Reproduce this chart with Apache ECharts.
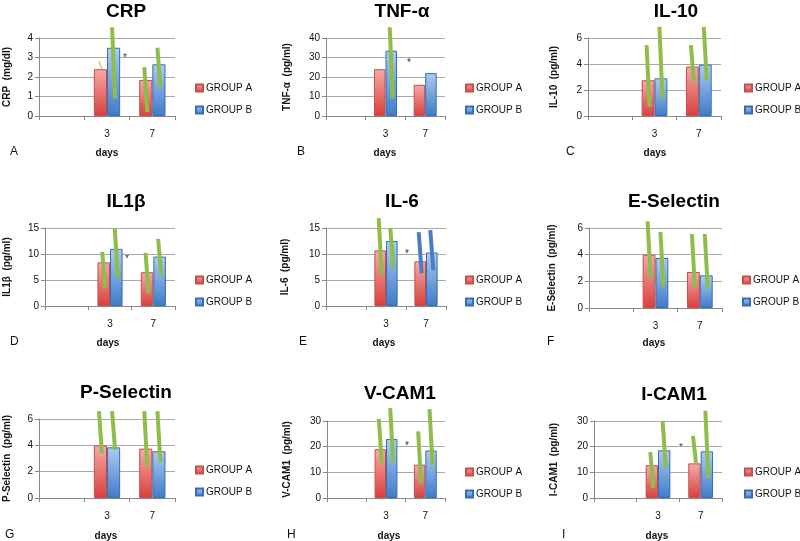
<!DOCTYPE html>
<html>
<head>
<meta charset="utf-8">
<script src="https://cdn.jsdelivr.net/npm/echarts@6/dist/echarts.min.js"></script>
<style>
html,body{margin:0;padding:0;background:#fff;}
#chart{width:800px;height:541px;}
</style>
</head>
<body>
<div id="chart"></div>
<script>
// ---------------- DATA ----------------
const categories = ['', '3', '7'];
const groupNames = ['GROUP A', 'GROUP B'];
const panelTitles = ['CRP', 'TNF-α', 'IL-10', 'IL1β', 'IL-6', 'E-Selectin', 'P-Selectin', 'V-CAM1', 'I-CAM1'];
const yAxisNames = ['CRP  (mg/dl)', 'TNF-α  (pg/ml)', 'IL-10  (pg/ml)', 'IL1β  (pg/ml)', 'IL-6  (pg/ml)',
                    'E-Selectin  (pg/ml)', 'P-Selectin  (pg/ml)', 'V-CAM1  (pg/ml)', 'I-CAM1  (pg/ml)'];
const panelLetters = ['A', 'B', 'C', 'D', 'E', 'F', 'G', 'H', 'I'];
const xAxisName = 'days';
const yMax = [4, 40, 6, 15, 15, 6, 6, 30, 30];
const yInterval = [1, 10, 2, 5, 5, 2, 2, 10, 10];

// bar heights per category ('', '3', '7')
const groupA = [[null, 2.4, 1.85], [null, 24, 16], [null, 2.75, 3.8], [null, 8.4, 6.5], [null, 10.7, 8.6],
                [null, 4.0, 2.7], [null, 4.0, 3.75], [null, 19, 13], [null, 12.8, 13.5]];
const groupB = [[null, 3.5, 2.65], [null, 33.5, 22], [null, 2.9, 3.95], [null, 11, 9.5], [null, 12.5, 10.3],
                [null, 3.75, 2.45], [null, 3.85, 3.55], [null, 23, 18.5], [null, 18.6, 18.2]];

// error ranges [low, high] for day 3 and day 7 (null = not drawn)
const errA = [[[2.4, 2.8], [0.2, 2.5]], [null, null], [[0.7, 5.45], [2.6, 5.45]], [[3.4, 10.4], [2.5, 10.2]],
              [[6.0, 16.9], [6.3, 14.2]], [[2.3, 6.5], [1.5, 5.55]], [[3.4, 6.6], [2.4, 6.6]],
              [[13.6, 30.8], [5.8, 26]], [[3.9, 17.9], [13.6, 24.2]]];
const errB = [[[0.9, 4.55], [1.45, 3.5]], [[9.2, 45.5], null], [[1.35, 6.85], [2.75, 6.85]], [[5.4, 15], [6.0, 12.9]],
              [[7.5, 15], [6.9, 14.6]], [[1.6, 5.7], [1.5, 5.55]], [[3.65, 6.6], [2.75, 6.6]],
              [[14, 35], [12.8, 34.6]], [[12, 30], [7.8, 34]]];

// panels showing a significance asterisk
const starPanels = [0, 1, 3, 4, 7, 8];

// ---------------- LAYOUT / STYLE ----------------
const grids = [
  {l: 39, t: 38, w: 136, h: 78}, {l: 326, t: 38, w: 119, h: 78}, {l: 588, t: 38, w: 133, h: 78},
  {l: 45, t: 228, w: 130, h: 78}, {l: 326, t: 228, w: 120, h: 78}, {l: 589, t: 228, w: 133, h: 80},
  {l: 39, t: 419, w: 136, h: 79}, {l: 327, t: 421, w: 118, h: 77}, {l: 594, t: 421, w: 128, h: 77}
];
const titlePos = [[126, 2], [402, 2], [676, 2], [126, 192], [402, 192], [674, 192], [126, 383], [400, 384], [674, 385]];
const nameGaps = [27, 34, 29, 33, 36, 32, 27, 35, 35];
const legendPos = [[195, 82], [465, 82], [744, 82], [195, 274], [465, 274], [742, 274], [195, 464], [465, 466], [744, 466]];
const letterPos = [[10, 153], [297, 153], [566, 153], [10, 343], [299, 343], [547, 343], [5, 536], [287, 536], [562, 536]];
const daysPos = [[107, 153], [385, 153], [655, 153], [108, 343], [384, 343], [654, 343], [106, 536], [389, 536], [657, 536]];
const starPos = {0: [125, 58], 1: [409, 63], 3: [127, 259], 4: [407, 254], 7: [407, 446], 8: [681, 448]};

const FONT = '"Liberation Sans", Arial, sans-serif';
const GREEN = '#8fbd4c';
const errColorExceptions = {'0-A-0': '#f5c896', '4-A-1': '#4a7ec4', '4-B-1': '#4a7ec4'};

const redGrad = new echarts.graphic.LinearGradient(0, 0, 0, 1, [
  {offset: 0, color: '#f6aaa8'}, {offset: 1, color: '#d8403c'}]);
const blueGrad = new echarts.graphic.LinearGradient(0, 0, 0, 1, [
  {offset: 0, color: '#acccf0'}, {offset: 1, color: '#3f7bca'}]);

const option = {
  animation: false,
  backgroundColor: '#fff',
  textStyle: {fontFamily: FONT},
  title: [], grid: [], xAxis: [], yAxis: [], legend: [], series: [], graphic: []
};

for (let i = 0; i < 9; i++) {
  const g = grids[i];
  option.grid.push({left: g.l, top: g.t, width: g.w, height: g.h, containLabel: false});
  option.title.push({
    text: panelTitles[i], left: titlePos[i][0], top: titlePos[i][1], textAlign: 'center', padding: 0,
    textStyle: {fontFamily: FONT, fontSize: 19, fontWeight: 'bold', color: '#000'}
  });
  option.xAxis.push({
    type: 'category', gridIndex: i, data: categories,
    axisLine: {show: true, lineStyle: {color: '#888', width: 1}},
    axisTick: {show: true, length: 4, lineStyle: {color: '#888'}},
    axisLabel: {fontSize: 10, color: '#111', margin: 13, fontFamily: FONT},
    splitLine: {show: false}
  });
  option.yAxis.push({
    type: 'value', gridIndex: i, min: 0, max: yMax[i], interval: yInterval[i],
    name: yAxisNames[i], nameLocation: 'middle', nameRotate: 90, nameGap: nameGaps[i],
    nameTextStyle: {fontSize: 10, fontWeight: 'bold', color: '#111', fontFamily: FONT},
    axisLine: {show: true, lineStyle: {color: '#888'}},
    axisTick: {show: true, length: 4, lineStyle: {color: '#888'}},
    axisLabel: {fontSize: 10, color: '#111', margin: 6, fontFamily: FONT},
    splitLine: {show: true, lineStyle: {color: '#a9a9a9', width: 1}}
  });
  option.legend.push({
    orient: 'vertical', left: legendPos[i][0], top: legendPos[i][1], padding: 0,
    itemWidth: 7, itemHeight: 7, itemGap: 10, icon: 'rect',
    data: groupNames,
    textStyle: {fontSize: 10, color: '#111', lineHeight: 12, padding: [0, 0, 0, -2], fontFamily: FONT}
  });
  option.series.push({
    name: groupNames[0], type: 'bar', xAxisIndex: i, yAxisIndex: i, data: groupA[i],
    barWidth: '29%', barGap: '0%',
    itemStyle: {color: redGrad, borderColor: '#c4504c', borderWidth: 1}
  });
  option.series.push({
    name: groupNames[1], type: 'bar', xAxisIndex: i, yAxisIndex: i, data: groupB[i],
    barWidth: '29%', barGap: '0%',
    itemStyle: {color: blueGrad, borderColor: '#3a6cb3', borderWidth: 1}
  });
  const errData = [];
  [errA[i], errB[i]].forEach((arr, gi) => {
    arr.forEach((r, di) => {
      if (!r) return;
      const key = i + '-' + (gi === 0 ? 'A' : 'B') + '-' + di;
      errData.push({value: [di + 1, gi, r[0], r[1]], itemStyle: {color: errColorExceptions[key] || GREEN}});
    });
  });
  option.series.push({
    name: 'err' + i, type: 'custom', xAxisIndex: i, yAxisIndex: i, z: 5, clip: false,
    encode: {x: 0, y: [2, 3]},
    data: errData,
    renderItem: function (params, api) {
      const cat = api.value(0), gi = api.value(1), lo = api.value(2), hi = api.value(3);
      const band = api.size([1, 0])[0];
      const base = api.coord([cat, 0]);
      const x = base[0] + (gi === 0 ? -1 : 1) * band * 0.145;
      const yLo = api.coord([cat, lo])[1];
      const yHi = api.coord([cat, hi])[1];
      const col = api.visual('color');
      const thin = col === '#f5c896';
      return {
        type: 'line',
        shape: {x1: x - 1.5, y1: yHi, x2: x + 1.5, y2: yLo},
        style: {stroke: col, lineWidth: thin ? 2 : 4}
      };
    }
  });
  option.graphic.push({
    type: 'text', left: letterPos[i][0], top: letterPos[i][1] - 7,
    style: {text: panelLetters[i], font: '12px ' + FONT, fill: '#111'}
  });
  option.graphic.push({
    type: 'text', x: daysPos[i][0], y: daysPos[i][1],
    style: {text: xAxisName, font: 'bold 10px ' + FONT, fill: '#111', textAlign: 'center', textVerticalAlign: 'middle'}
  });
  if (starPanels.includes(i)) {
    option.graphic.push({
      type: 'text', x: starPos[i][0], y: starPos[i][1],
      style: {text: '*', font: '10px ' + FONT, fill: '#333', textAlign: 'center', textVerticalAlign: 'middle'}
    });
  }
}

const chart = echarts.init(document.getElementById('chart'), null, {renderer: 'canvas'});
chart.setOption(option);
</script>
</body>
</html>
